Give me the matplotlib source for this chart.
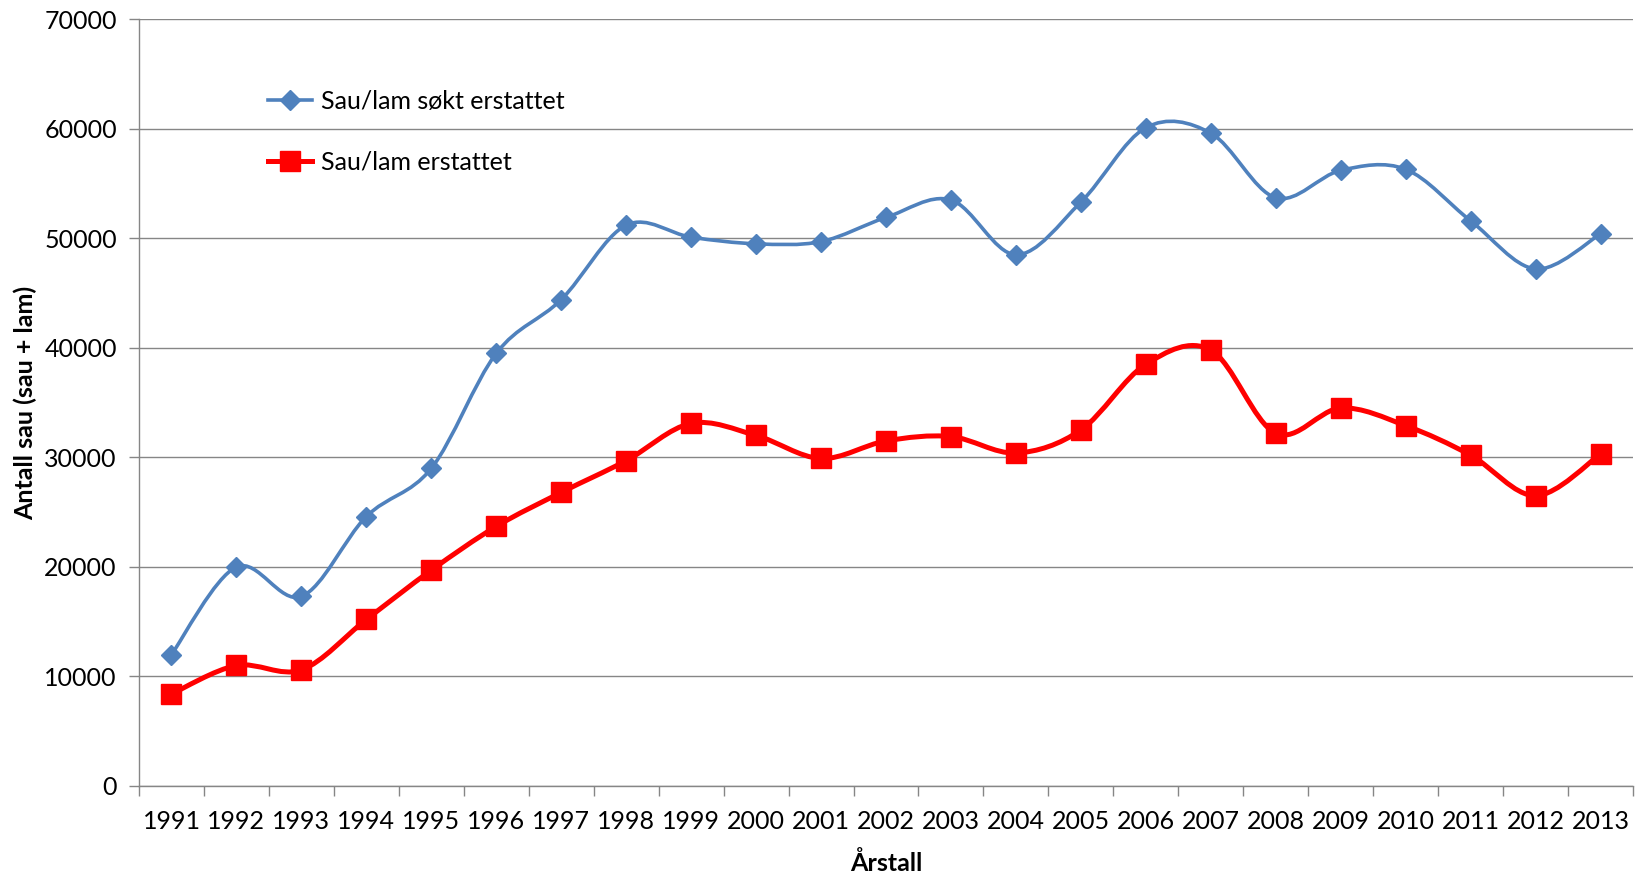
import matplotlib
matplotlib.use("Agg")
import matplotlib.pyplot as plt
from matplotlib.path import Path
from matplotlib.patches import PathPatch
from matplotlib.lines import Line2D
import numpy as np

plt.rcParams['font.family'] = ['Lato', 'DejaVu Sans']

years = [str(y) for y in range(1991, 2014)]
sokt = [12000, 20000, 17300, 24600, 29000, 39500, 44400, 51200, 50100, 49500,
        49700, 51900, 53500, 48500, 53300, 60100, 59600, 53700, 56200, 56300,
        51600, 47200, 50400]
erstattet = [8400, 11000, 10600, 15200, 19700, 23700, 26800, 29700, 33100, 32000,
             29900, 31500, 31900, 30400, 32500, 38500, 39800, 32200, 34500, 32900,
             30200, 26500, 30300]
yticks = [0, 10000, 20000, 30000, 40000, 50000, 60000, 70000]

label_sokt = "Sau/lam søkt erstattet"
label_erst = "Sau/lam erstattet"
blue = "#4F81BD"
red = "#FF0000"


def smooth_path(x, y):
    x = np.asarray(x, float)
    y = np.asarray(y, float)
    n = len(x)
    verts = [(x[0], y[0])]
    codes = [Path.MOVETO]
    for i in range(n - 1):
        x0, y0 = (x[i - 1], y[i - 1]) if i > 0 else (x[i], y[i])
        x3, y3 = (x[i + 2], y[i + 2]) if i + 2 < n else (x[i + 1], y[i + 1])
        c1 = (x[i] + (x[i + 1] - x0) / 6.0, y[i] + (y[i + 1] - y0) / 6.0)
        c2 = (x[i + 1] - (x3 - x[i]) / 6.0, y[i + 1] - (y3 - y[i]) / 6.0)
        verts += [c1, c2, (x[i + 1], y[i + 1])]
        codes += [Path.CURVE4] * 3
    return Path(verts, codes)


fig = plt.figure(figsize=(16.47, 8.74), dpi=100)
ax = fig.add_axes([0.0844, 0.1007, 0.9071, 0.8773])

xpos = np.arange(len(years))

ax.add_patch(PathPatch(smooth_path(xpos, sokt), facecolor='none', edgecolor=blue,
                       lw=2.6, zorder=3, capstyle='round'))
ax.plot(xpos, sokt, linestyle='none', marker='D', ms=10, color=blue, zorder=4)

ax.add_patch(PathPatch(smooth_path(xpos, erstattet), facecolor='none', edgecolor=red,
                       lw=3.6, zorder=3, capstyle='round'))
ax.plot(xpos, erstattet, linestyle='none', marker='s', ms=15, color=red, zorder=4)

ax.set_xlim(-0.5, len(years) - 0.5)
ax.set_ylim(0, 70000)
ax.set_yticks(yticks)
ax.set_yticklabels([str(v) for v in yticks])
ax.set_xticks(xpos)
ax.set_xticklabels(years)
ax.set_xticks(np.arange(len(years) + 1) - 0.5, minor=True)
ax.tick_params(axis='x', which='major', length=0, pad=17, labelsize=18)
ax.tick_params(axis='x', which='minor', length=7, color='#868686', width=1)
ax.tick_params(axis='y', which='major', length=7, color='#868686', width=1,
               labelsize=18, pad=9)

ax.grid(axis='y', color='#868686', lw=1)
ax.set_axisbelow(True)
for s in ['top', 'right']:
    ax.spines[s].set_visible(False)
for s in ['left', 'bottom']:
    ax.spines[s].set_color('#868686')
    ax.spines[s].set_linewidth(1)

ax.set_xlabel("Årstall", fontsize=18, fontweight='bold', labelpad=13)
ax.set_ylabel("Antall sau (sau + lam)", fontsize=18, fontweight='bold', labelpad=5)

handles = [
    Line2D([], [], color=blue, lw=2.6, marker='D', ms=10),
    Line2D([], [], color=red, lw=3.6, marker='s', ms=15),
]
ax.legend(handles, [label_sokt, label_erst], loc='upper left',
          bbox_to_anchor=(0.0715, 0.937), frameon=False, fontsize=18,
          labelspacing=1.5, handlelength=1.75, handletextpad=0.35)

fig.savefig("out.png", dpi=100)
